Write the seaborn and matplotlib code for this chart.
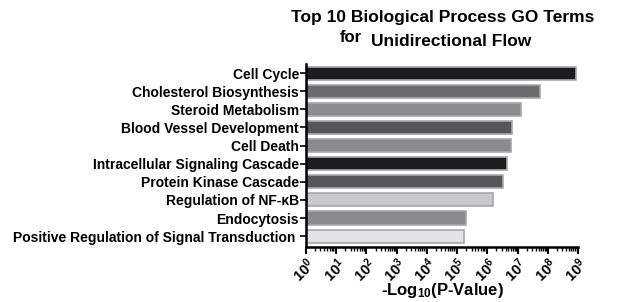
import numpy as np
import pandas as pd
import matplotlib
matplotlib.use("Agg")
import matplotlib.pyplot as plt
import matplotlib.ticker as mticker
import seaborn as sns

# --- DATA ---
TERMS = ['Cell Cycle', 'Cholesterol Biosynthesis', 'Steroid Metabolism',
         'Blood Vessel Development', 'Cell Death', 'Intracellular Signaling Cascade',
         'Protein Kinase Cascade', 'Regulation of NF-\u03baB', 'Endocytosis',
         'Positive Regulation of Signal Transduction ']
VALUES = [8.5e8, 5.4e7, 1.3e7, 6.8e6, 5.9e6, 4.6e6, 3.2e6, 1.5e6, 2.0e5, 1.7e5]
BAR_COLORS = ['#1c1c1e', '#6b6b6d', '#8c8c90', '#565658', '#8a8a8e',
              '#1c1c1e', '#565658', '#c9c9cb', '#8a8a8e', '#e3e3e5']
XTICKS = [10.0 ** k for k in range(0, 10)]

# --- STYLE ---
sns.set_style('ticks')
plt.rcParams['font.family'] = ['Liberation Sans', 'DejaVu Sans']
plt.rcParams['font.weight'] = 'bold'
plt.rcParams['text.color'] = 'black'
plt.rcParams['xtick.color'] = 'black'
plt.rcParams['ytick.color'] = 'black'
plt.rcParams['axes.labelcolor'] = 'black'
plt.rcParams['axes.edgecolor'] = 'black'
plt.rcParams['mathtext.fontset'] = 'custom'
plt.rcParams['mathtext.rm'] = 'Liberation Sans:bold'
plt.rcParams['mathtext.bf'] = 'Liberation Sans:bold'
plt.rcParams['mathtext.default'] = 'bf'

df = pd.DataFrame({'term': TERMS, 'value': VALUES})

fig = plt.figure(figsize=(6.17, 3.02), dpi=100)
ax = fig.add_axes([306 / 617, 1 - 247 / 302, (578 - 306) / 617, (247 - 64) / 302])

sns.barplot(data=df, y='term', x='value', hue='term', palette=BAR_COLORS,
            legend=False, orient='h', width=0.72, edgecolor='#a8a8aa',
            linewidth=1.2, ax=ax)
ax.set_xscale('log')
ax.set_xlim(1, 1e9)
ax.set_ylim(9.6, -0.5)

ax.xaxis.set_major_locator(mticker.FixedLocator(XTICKS))
ax.xaxis.set_minor_locator(mticker.LogLocator(base=10, subs=np.arange(2, 10), numticks=20))
ax.xaxis.set_major_formatter(mticker.LogFormatterMathtext())
ax.xaxis.set_minor_formatter(mticker.NullFormatter())
for lab in ax.get_xticklabels():
    lab.set_rotation(45)
    lab.set_fontsize(10.5)
    lab.set_ha('right')
    lab.set_va('top')
    lab.set_rotation_mode('anchor')
ax.tick_params(axis='x', which='major', length=5, width=1.5, pad=1)
ax.tick_params(axis='x', which='minor', length=3, width=1)
ax.tick_params(axis='y', length=4, width=1.2, pad=1, labelsize=10)
for lab in ax.get_yticklabels():
    lab.set_fontweight('bold')

sns.despine(ax=ax)
ax.spines['left'].set_linewidth(1.8)
ax.spines['bottom'].set_linewidth(1.8)

ax.set_ylabel('')
ax.set_xlabel(r'-Log$_{10}$(P-Value)', fontsize=12, fontweight='bold', labelpad=-3)

fig.text(0.717, 0.942, 'Top 10 Biological Process GO Terms', ha='center', va='center',
         fontsize=12.5, fontweight='bold')
fig.text(0.568, 0.875, 'for', ha='center', va='center', fontsize=12, fontweight='bold')
fig.text(0.731, 0.862, 'Unidirectional Flow', ha='center', va='center',
         fontsize=12.5, fontweight='bold')

plt.savefig('out.png', dpi=100)
